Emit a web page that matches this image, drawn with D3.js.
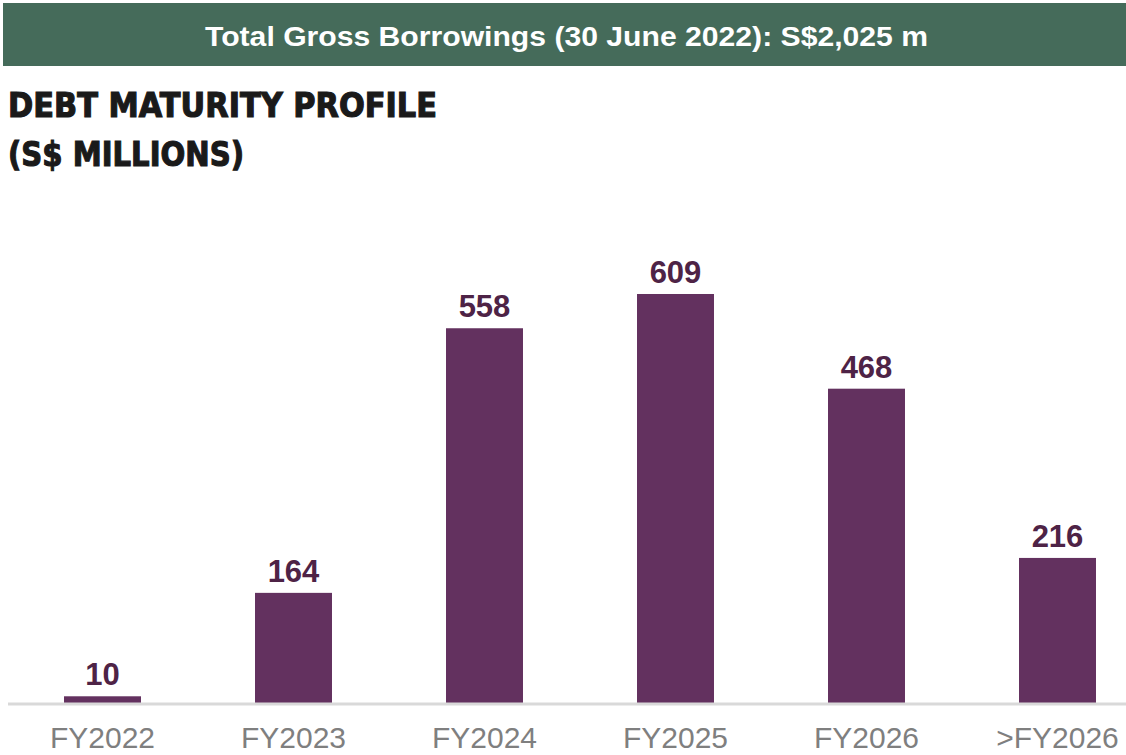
<!DOCTYPE html>
<html>
<head>
<meta charset="utf-8">
<script src="https://cdn.jsdelivr.net/npm/d3@7"></script>
<style>
  body { margin: 0; background: #fff; }
</style>
</head>
<body>
<main></main>
<script>
// chart data
const categories = ['FY2022', 'FY2023', 'FY2024', 'FY2025', 'FY2026', '>FY2026'];
const values = [10, 164, 558, 609, 468, 216];

!function(){
    var w = 1126;
    var h = 755;
    var base = 703;

    let svg = d3.select('main').append('svg')
        .attr('width', w)
        .attr('height', h)
        .style('display', 'block');

    // green banner
    svg.append('rect')
        .attr('x', 3).attr('y', 3)
        .attr('width', w - 3).attr('height', 63)
        .attr('fill', '#456b5a');

    svg.append('text')
        .attr('x', 205).attr('y', 46)
        .attr('fill', '#fff')
        .attr('textLength', 723).attr('lengthAdjust', 'spacingAndGlyphs')
        .style('font', 'bold 28px "Liberation Sans", Arial, sans-serif')
        .text('Total Gross Borrowings (30 June 2022): S$2,025 m');

    let title = svg.append('g')
        .style('font', 'bold 33px "DejaVu Sans", sans-serif')
        .attr('fill', '#1a1a1a')
        .attr('stroke', '#1a1a1a')
        .attr('stroke-width', 1.2);
    title.append('text').attr('x', 8).attr('y', 117)
        .attr('textLength', 429).attr('lengthAdjust', 'spacingAndGlyphs')
        .text('DEBT MATURITY PROFILE');
    title.append('text').attr('x', 8).attr('y', 166)
        .attr('textLength', 236).attr('lengthAdjust', 'spacingAndGlyphs')
        .text('(S$ MILLIONS)');

    let xScale = d3.scaleBand()
        .domain(categories)
        .range([7, 1153])
        .paddingInner(0.597)
        .paddingOuter(0.2985);

    let yScale = d3.scaleLinear()
        .domain([0, 700])
        .range([base, base - 0.6716 * 700]);

    let data = categories.map((c, i) => ({cat: c, val: values[i]}));

    svg.selectAll('.bar')
        .data(data)
        .enter().append('rect')
        .attr('class', 'bar')
        .attr('x', d => xScale(d.cat))
        .attr('y', d => yScale(d.val))
        .attr('width', xScale.bandwidth())
        .attr('height', d => base - yScale(d.val))
        .attr('fill', '#63315f');

    svg.selectAll('.lbl')
        .data(data)
        .enter().append('text')
        .attr('class', 'lbl')
        .attr('x', d => xScale(d.cat) + xScale.bandwidth() / 2)
        .attr('y', d => yScale(d.val) - 11)
        .attr('text-anchor', 'middle')
        .attr('fill', '#4e2346')
        .style('font', 'bold 31px "Liberation Sans", Arial, sans-serif')
        .text(d => d.val);

    // x axis
    let xAxis = d3.axisBottom(xScale).tickSize(0).tickPadding(24);
    let gx = svg.append('g')
        .attr('transform', 'translate(0,' + base + ')')
        .call(xAxis);
    gx.select('.domain').remove();
    gx.append('line')
        .attr('x1', 8).attr('x2', w)
        .attr('y1', 1).attr('y2', 1)
        .attr('stroke', '#d9d9d9').attr('stroke-width', 3);
    gx.selectAll('.tick text')
        .attr('fill', '#7f7f7f')
        .style('font', '30px "Liberation Sans", Arial, sans-serif');
}();
</script>
</body>
</html>
